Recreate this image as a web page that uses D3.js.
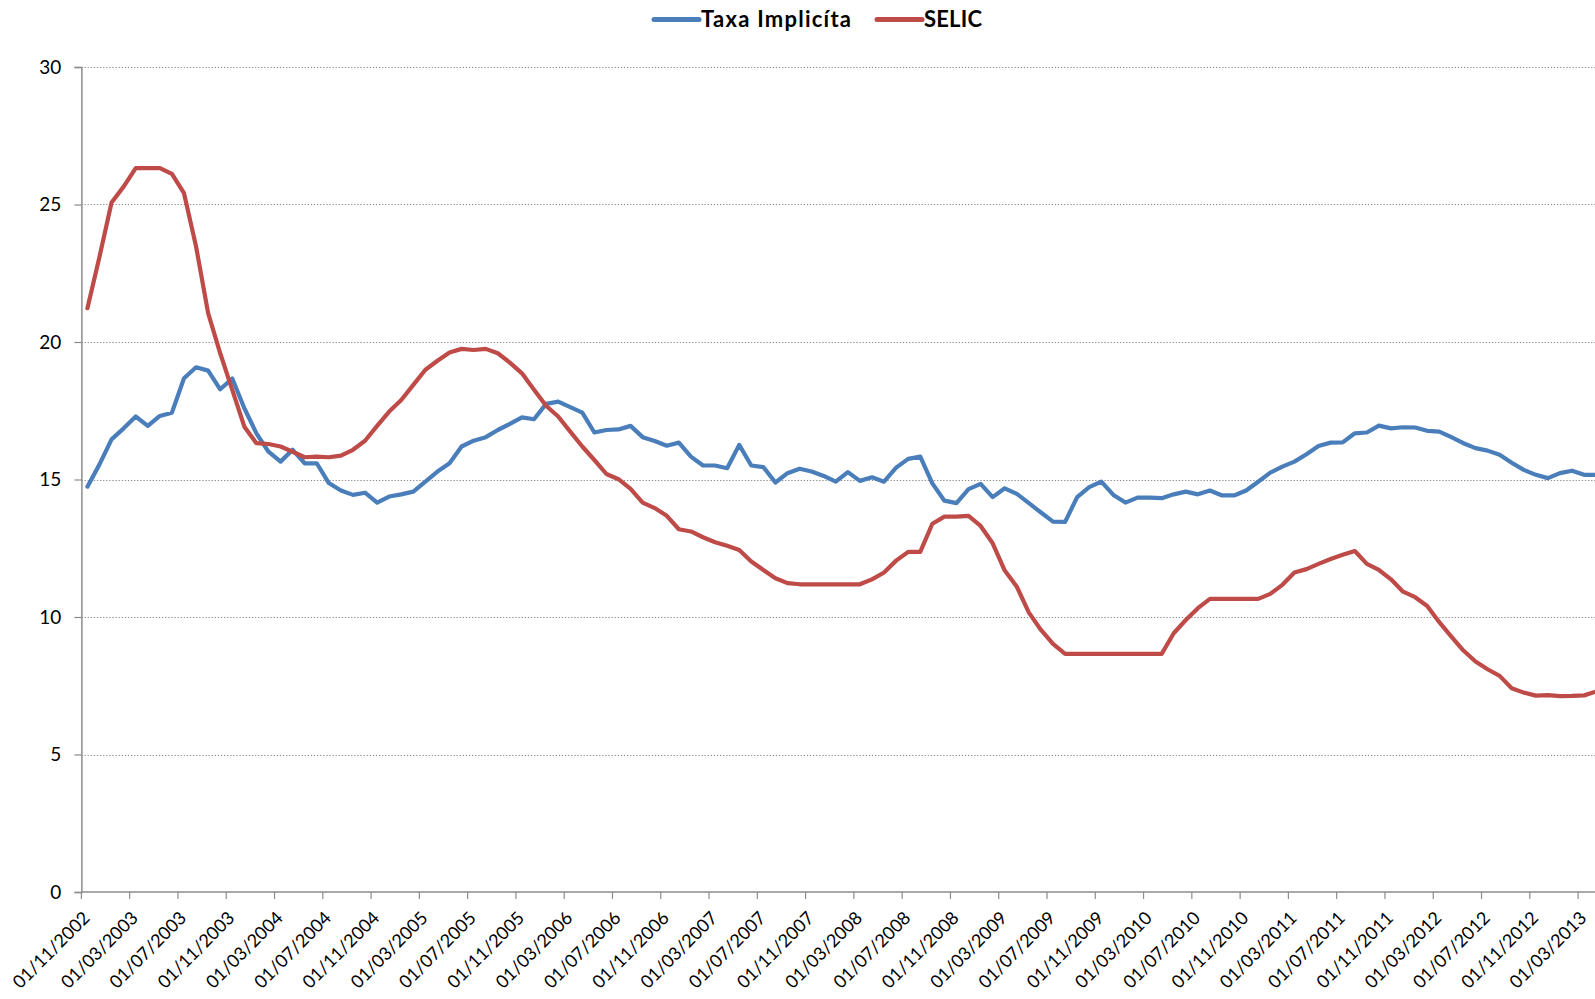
<!DOCTYPE html>
<html>
<head>
<meta charset="utf-8">
<script src="https://cdn.jsdelivr.net/npm/d3@7"></script>
<style>
  html, body { margin: 0; padding: 0; background: #fff; overflow: hidden; }
  svg { display: block; }
  text { font-family: Lato, "Liberation Sans", sans-serif; }
</style>
</head>
<body>
<svg id="chart" width="1595" height="999"></svg>
<script>
// ---- data (monthly, Nov 2002 .. Apr 2013) ----
const startMonth = "2002-11";
const tickLabels = [
  "01/11/2002","01/03/2003","01/07/2003","01/11/2003","01/03/2004","01/07/2004",
  "01/11/2004","01/03/2005","01/07/2005","01/11/2005","01/03/2006","01/07/2006",
  "01/11/2006","01/03/2007","01/07/2007","01/11/2007","01/03/2008","01/07/2008",
  "01/11/2008","01/03/2009","01/07/2009","01/11/2009","01/03/2010","01/07/2010",
  "01/11/2010","01/03/2011","01/07/2011","01/11/2011","01/03/2012","01/07/2012",
  "01/11/2012","01/03/2013"
];
const yTicks = [0, 5, 10, 15, 20, 25, 30];
const seriesNames = ["Taxa Implicíta", "SELIC"];

const taxaImplicita = [
  14.74,15.55,16.46,16.86,17.29,16.95,17.31,17.43,18.68,19.08,18.96,18.28,
  18.67,17.59,16.68,16.01,15.65,16.08,15.59,15.59,14.87,14.60,14.44,14.52,
  14.16,14.38,14.46,14.56,14.92,15.29,15.59,16.20,16.41,16.54,16.80,17.02,
  17.26,17.19,17.75,17.83,17.63,17.43,16.71,16.80,16.82,16.95,16.54,16.40,
  16.23,16.34,15.83,15.51,15.51,15.41,16.26,15.51,15.45,14.89,15.23,15.39,
  15.29,15.13,14.92,15.27,14.95,15.08,14.92,15.43,15.75,15.83,14.86,14.23,
  14.14,14.65,14.84,14.36,14.68,14.48,14.14,13.80,13.47,13.46,14.36,14.72,
  14.92,14.44,14.16,14.34,14.34,14.32,14.46,14.56,14.46,14.60,14.42,14.42,
  14.60,14.92,15.25,15.47,15.65,15.92,16.22,16.34,16.35,16.68,16.71,16.96,
  16.86,16.90,16.89,16.77,16.74,16.54,16.32,16.14,16.05,15.90,15.61,15.35,
  15.17,15.05,15.23,15.32,15.17,15.17
];
const selic = [
  21.23,23.10,25.07,25.65,26.32,26.32,26.32,26.11,25.41,23.47,21.05,19.59,
  18.26,16.92,16.32,16.29,16.20,16.01,15.81,15.83,15.81,15.87,16.08,16.41,
  16.95,17.47,17.89,18.44,18.99,19.32,19.62,19.75,19.71,19.75,19.59,19.25,
  18.86,18.26,17.68,17.29,16.74,16.20,15.71,15.20,15.01,14.66,14.16,13.96,
  13.68,13.19,13.11,12.90,12.72,12.59,12.44,12.02,11.71,11.41,11.23,11.19,
  11.19,11.19,11.19,11.19,11.19,11.37,11.62,12.05,12.37,12.37,13.39,13.65,
  13.65,13.68,13.31,12.68,11.69,11.10,10.16,9.53,9.02,8.66,8.66,8.66,
  8.66,8.66,8.66,8.66,8.66,8.66,9.41,9.89,10.32,10.66,10.66,10.66,
  10.66,10.66,10.84,11.17,11.62,11.74,11.93,12.11,12.26,12.40,11.93,11.71,
  11.37,10.92,10.72,10.40,9.81,9.29,8.78,8.38,8.10,7.86,7.41,7.25,
  7.14,7.16,7.12,7.13,7.15,7.29
];
const colors = ["#4A7EBB", "#BE4B48"];

// ---- layout ----
const svg = d3.select("#chart");
const plotLeft = 81.4, plotTop = 67, plotBottom = 892, catW = 12.07;
const parse = d3.timeParse("%Y-%m");
const months = d3.range(taxaImplicita.length).map(i => d3.timeMonth.offset(parse(startMonth), i));

const x = d3.scaleBand().domain(months).range([plotLeft, plotLeft + months.length * catW]).padding(0);
const y = d3.scaleLinear().domain([0, 30]).range([plotBottom, plotTop]);
const cx = d => x(d) + x.bandwidth() / 2;

// gridlines
svg.append("g").selectAll("line").data(yTicks.filter(t => t > 0)).join("line")
  .attr("x1", plotLeft).attr("x2", 1595)
  .attr("y1", d => Math.round(y(d)) + 0.5).attr("y2", d => Math.round(y(d)) + 0.5)
  .attr("stroke", "#8c8c8c").attr("stroke-width", 1.2).attr("stroke-dasharray", "1.3,1.8");

// y axis
const yAxis = d3.axisLeft(y).tickValues(yTicks).tickSize(7).tickPadding(13);
const gy = svg.append("g").attr("transform", `translate(${plotLeft},0)`).call(yAxis);
gy.select(".domain").attr("stroke", "#8c8c8c").attr("stroke-width", 1.5);
gy.selectAll(".tick line").attr("stroke", "#8c8c8c").attr("stroke-width", 1.2);
gy.selectAll(".tick text").attr("font-size", 19).attr("fill", "#000")
  .style("font-family", "Lato, 'Liberation Sans', sans-serif");

// x axis
const tickMonths = months.filter((d, i) => i % 4 === 0);
const gx = svg.append("g");
gx.append("line").attr("x1", plotLeft).attr("x2", 1595).attr("y1", plotBottom).attr("y2", plotBottom)
  .attr("stroke", "#8c8c8c").attr("stroke-width", 1.5);
gx.selectAll("line.t").data(tickMonths).join("line").attr("class", "t")
  .attr("x1", d => x(d)).attr("x2", d => x(d)).attr("y1", plotBottom).attr("y2", plotBottom + 7)
  .attr("stroke", "#8c8c8c").attr("stroke-width", 1.2);
gx.selectAll("text").data(tickMonths).join("text")
  .attr("transform", d => `translate(${x(d) + 9.5},${plotBottom + 27}) rotate(-45)`)
  .attr("text-anchor", "end").attr("font-size", 18).attr("fill", "#000")
  .text((d, i) => tickLabels[i]);

// lines
const series = [taxaImplicita, selic];
const line = d3.line().x((v, i) => cx(months[i])).y(v => y(v));
series.forEach((s, k) => {
  svg.append("path").datum(s).attr("d", line)
    .attr("fill", "none").attr("stroke", colors[k]).attr("stroke-width", 4.2)
    .attr("stroke-linejoin", "round").attr("stroke-linecap", "round");
});

// legend
const lg = svg.append("g").attr("transform", "translate(0,19.5)");
const legendX = [654, 877];
const legendTextW = [150, 58];
seriesNames.forEach((n, k) => {
  lg.append("line").attr("x1", legendX[k]).attr("x2", legendX[k] + 45).attr("y1", 0).attr("y2", 0)
    .attr("stroke", colors[k]).attr("stroke-width", 5).attr("stroke-linecap", "round");
  lg.append("text").attr("x", legendX[k] + 47).attr("y", 0).attr("dy", "0.36em")
    .attr("font-size", 22).attr("font-weight", "bold").attr("fill", "#000")
    .attr("textLength", legendTextW[k]).attr("lengthAdjust", "spacing").text(n);
});
</script>
</body>
</html>
